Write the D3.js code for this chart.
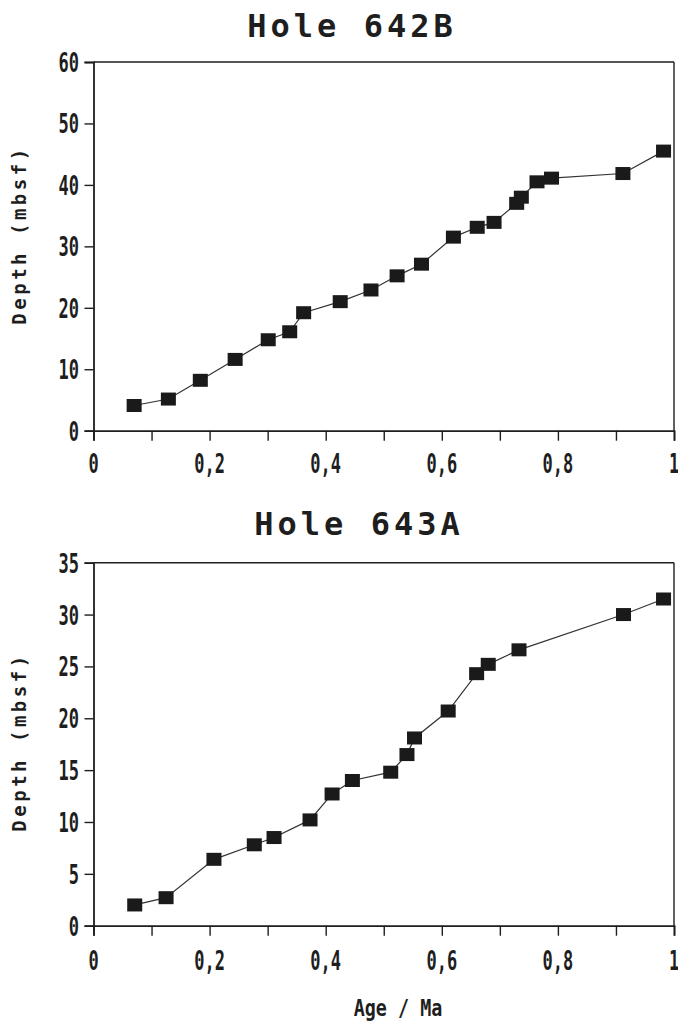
<!DOCTYPE html>
<html>
<head>
<meta charset="utf-8">
<script src="https://cdn.jsdelivr.net/npm/d3@7"></script>
<style>
  html, body { margin: 0; padding: 0; background: #fff; }
  svg { display: block; }
</style>
</head>
<body>
<svg id="chart" width="678" height="1023"></svg>
<script>
// ---- data ----
const titles = ["Hole 642B", "Hole 643A"];
const age642B = [0.070, 0.129, 0.184, 0.244, 0.301, 0.338, 0.362, 0.425, 0.478, 0.523, 0.565, 0.620, 0.661, 0.690, 0.729, 0.737, 0.764, 0.789, 0.912, 0.982];
const depth642B = [4.1, 5.15, 8.2, 11.6, 14.8, 16.1, 19.2, 21.0, 22.9, 25.2, 27.1, 31.5, 33.1, 33.9, 37.0, 38.0, 40.5, 41.1, 41.85, 45.5];
const age643A = [0.071, 0.125, 0.2075, 0.277, 0.311, 0.373, 0.411, 0.446, 0.512, 0.540, 0.553, 0.611, 0.660, 0.680, 0.733, 0.913, 0.982];
const depth643A = [2.0, 2.7, 6.4, 7.8, 8.5, 10.2, 12.7, 14.0, 14.8, 16.5, 18.1, 20.7, 24.3, 25.2, 26.6, 30.0, 31.5];
const xTicks = [0, 0.1, 0.2, 0.3, 0.4, 0.5, 0.6, 0.7, 0.8, 0.9, 1.0];
const xTickLabels = ["0", "", "0,2", "", "0,4", "", "0,6", "", "0,8", "", "1"];
const yTicks642B = [0, 10, 20, 30, 40, 50, 60];
const yTicks643A = [0, 5, 10, 15, 20, 25, 30, 35];
const yLabel = "Depth (mbsf)";
const xLabel = "Age / Ma";

// ---- drawing ----
const svg = d3.select("#chart");
const ink = "#1e1e1e";
const digitFont = "'DejaVu Sans Mono', monospace";

const panels = [
  { title: titles[0], ages: age642B, depths: depth642B, yMax: 60, yTicks: yTicks642B,
    top: 62, bottom: 430.7, titleX: 352, titleY: 37, xLabY: 472.5, yLabC: 235 },
  { title: titles[1], ages: age643A, depths: depth643A, yMax: 35, yTicks: yTicks643A,
    top: 562.7, bottom: 925.7, titleX: 359, titleY: 535, xLabY: 970, yLabC: 742 }
];

const left = 93.5, right = 674;

function condensedText(g, x, y, txt, anchor, sx, size) {
  g.append("text")
    .attr("transform", `translate(${x},${y}) scale(${sx},1)`)
    .attr("text-anchor", anchor)
    .attr("font-family", digitFont)
    .attr("font-weight", "bold")
    .attr("font-size", size || 27)
    .attr("fill", ink)
    .text(txt);
}

panels.forEach(p => {
  const g = svg.append("g");
  const x = d3.scaleLinear().domain([0, 1]).range([left, right]);
  const y = d3.scaleLinear().domain([0, p.yMax]).range([p.bottom, p.top]);

  // title
  g.append("text")
    .attr("x", p.titleX).attr("y", p.titleY)
    .attr("text-anchor", "middle")
    .attr("font-family", digitFont)
    .attr("font-weight", "bold")
    .attr("font-size", 32)
    .attr("letter-spacing", 4)
    .attr("fill", ink)
    .text(p.title);

  // frame (top and right)
  g.append("line").attr("x1", x(0)).attr("x2", x(1)).attr("y1", y(p.yMax)).attr("y2", y(p.yMax))
    .attr("stroke", ink).attr("stroke-width", 1.4);
  g.append("line").attr("x1", x(1)).attr("x2", x(1)).attr("y1", y(p.yMax)).attr("y2", y(0))
    .attr("stroke", ink).attr("stroke-width", 1.4);

  // axes
  const xAxis = d3.axisBottom(x).tickValues(xTicks).tickSize(10).tickFormat("");
  const yAxis = d3.axisLeft(y).tickValues(p.yTicks).tickSize(9).tickFormat("");
  const gx = g.append("g").attr("transform", `translate(0,${y(0)})`).call(xAxis);
  const gy = g.append("g").attr("transform", `translate(${x(0)},0)`).call(yAxis);
  [gx, gy].forEach(a => {
    a.select(".domain").attr("stroke", ink).attr("stroke-width", 1.8);
    a.selectAll(".tick line").attr("stroke", ink).attr("stroke-width", 1.4);
  });

  // tick labels
  xTicks.forEach((t, i) => {
    if (xTickLabels[i]) condensedText(g, x(t), p.xLabY, xTickLabels[i], "middle", 0.63);
  });
  p.yTicks.forEach(t => condensedText(g, 79, y(t) + 10, String(t), "end", 0.63));

  // y label
  g.append("text")
    .attr("transform", `translate(26,${p.yLabC}) rotate(-90)`)
    .attr("text-anchor", "middle")
    .attr("font-family", digitFont)
    .attr("font-weight", "bold")
    .attr("font-size", 19)
    .attr("letter-spacing", 3.5)
    .attr("fill", ink)
    .text(yLabel);

  // line + markers
  const pts = p.ages.map((a, i) => [a, p.depths[i]]);
  const line = d3.line().x(d => x(d[0])).y(d => y(d[1]));
  g.append("path").attr("d", line(pts)).attr("fill", "none")
    .attr("stroke", "#333").attr("stroke-width", 1.2);
  g.selectAll("rect.m").data(pts).join("rect")
    .attr("class", "m")
    .attr("x", d => x(d[0]) - 7.5).attr("y", d => y(d[1]) - 6.5)
    .attr("width", 15).attr("height", 13)
    .attr("fill", "#1a1a1a");
});

// x axis title
condensedText(svg, 398, 1016, xLabel, "middle", 0.8, 23);
</script>
</body>
</html>
